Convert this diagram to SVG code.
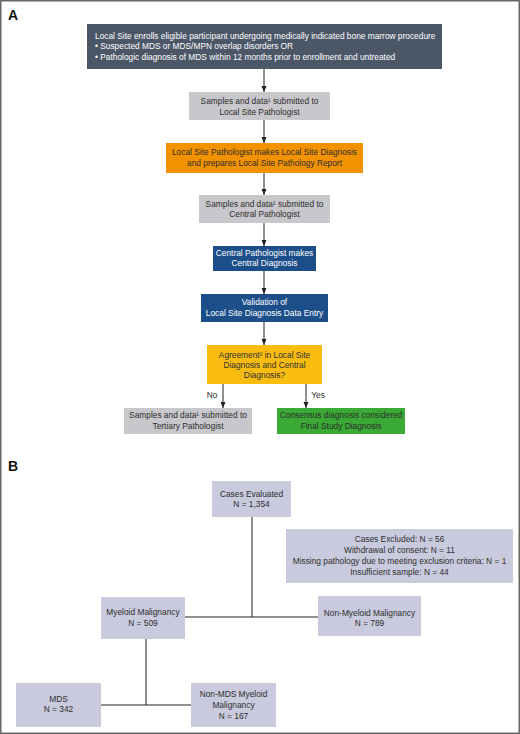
<svg xmlns="http://www.w3.org/2000/svg" width="520" height="734" viewBox="0 0 520 734">
<style>
  text { font-family: "Liberation Sans", Arial, sans-serif; font-size: 8.35px; fill: #2e2e2e; }
  .c { text-anchor: middle; }
  .w { fill: #ffffff; }
  .lbl { font-size: 14px; font-weight: bold; fill: #111; }
  .conn { stroke: #222; stroke-width: 1; fill: none; }
  .grey { fill: #c8c8cc; }
  .bbox { fill: #c9cadd; }
</style>
<defs>
  <marker id="ah" viewBox="0 0 6 6" refX="6" refY="3" markerWidth="6" markerHeight="6" markerUnits="userSpaceOnUse" orient="auto">
    <path d="M0,0.5 L6,3 L0,5.5 Z" fill="#222"/>
  </marker>
</defs>
<rect x="0.75" y="0.75" width="518.5" height="732.5" fill="#ffffff" stroke="#666" stroke-width="1.5"/>
<text class="lbl" x="8" y="20">A</text>
<text class="lbl" x="8" y="471">B</text>

<g id="connectors">
  <path class="conn" d="M264,69 V92" marker-end="url(#ah)"/>
  <path class="conn" d="M264,120 V143" marker-end="url(#ah)"/>
  <path class="conn" d="M264,173 V195" marker-end="url(#ah)"/>
  <path class="conn" d="M264,223 V246" marker-end="url(#ah)"/>
  <path class="conn" d="M264,271 V294" marker-end="url(#ah)"/>
  <path class="conn" d="M264,322 V345" marker-end="url(#ah)"/>
  <path class="conn" d="M223,384 V408" marker-end="url(#ah)"/>
  <path class="conn" d="M306,384 V408" marker-end="url(#ah)"/>
  <path class="conn" d="M252,517 V617"/>
  <path class="conn" d="M185,617 H318"/>
  <path class="conn" d="M146,639 V705"/>
  <path class="conn" d="M101,705 H191"/>
  <text x="212" y="398" class="c">No</text>
  <text x="318" y="398" class="c">Yes</text>
</g>

<g id="enroll">
  <rect x="87" y="24" width="355" height="45" fill="#4b5667"/>
  <text class="w" x="95" y="39">Local Site enrolls eligible participant undergoing medically indicated bone marrow procedure</text>
  <text class="w" x="95" y="49">• Suspected MDS or MDS/MPN overlap disorders OR</text>
  <text class="w" x="95" y="60">• Pathologic diagnosis of MDS within 12 months prior to enrollment and untreated</text>
</g>
<g id="submit-local">
  <rect class="grey" x="189" y="92" width="141" height="28"/>
  <text class="c" x="259.5" y="104">Samples and data¹ submitted to</text>
  <text class="c" x="259.5" y="115">Local Site Pathologist</text>
</g>
<g id="local-diagnosis">
  <rect x="166" y="143" width="197" height="30" fill="#f39200"/>
  <text class="c" x="264.5" y="155">Local Site Pathologist makes Local Site Diagnosis</text>
  <text class="c" x="264.5" y="166">and prepares Local Site Pathology Report</text>
</g>
<g id="submit-central">
  <rect class="grey" x="199" y="195" width="131" height="28"/>
  <text class="c" x="264.5" y="207">Samples and data¹ submitted to</text>
  <text class="c" x="264.5" y="217">Central Pathologist</text>
</g>
<g id="central-diagnosis">
  <rect x="213" y="246" width="103" height="25" fill="#1c4e8a"/>
  <text class="c w" x="264.5" y="256">Central Pathologist makes</text>
  <text class="c w" x="264.5" y="266">Central Diagnosis</text>
</g>
<g id="validation">
  <rect x="201" y="294" width="127" height="28" fill="#1c4e8a"/>
  <text class="c w" x="264.5" y="305">Validation of</text>
  <text class="c w" x="264.5" y="316">Local Site Diagnosis Data Entry</text>
</g>
<g id="agreement">
  <rect x="207" y="345" width="115" height="39" fill="#f9bd12"/>
  <text class="c" x="264.5" y="358">Agreement² in Local Site</text>
  <text class="c" x="264.5" y="368">Diagnosis and Central</text>
  <text class="c" x="264.5" y="378">Diagnosis?</text>
</g>
<g id="tertiary">
  <rect class="grey" x="124" y="408" width="128" height="26"/>
  <text class="c" x="188" y="418">Samples and data¹ submitted to</text>
  <text class="c" x="188" y="429">Tertiary Pathologist</text>
</g>
<g id="consensus">
  <rect x="277" y="408" width="128" height="26" fill="#3aa935"/>
  <text class="c" x="341" y="418" fill="#1f3d1c">Consensus diagnosis considered</text>
  <text class="c" x="341" y="429" fill="#1f3d1c">Final Study Diagnosis</text>
</g>

<g id="cases-evaluated">
  <rect class="bbox" x="212" y="481" width="79" height="36"/>
  <text class="c" x="251.5" y="497">Cases Evaluated</text>
  <text class="c" x="251.5" y="507">N = 1,354</text>
</g>
<g id="excluded">
  <rect class="bbox" x="286" y="529" width="227" height="54"/>
  <text class="c" x="399.5" y="542">Cases Excluded: N = 56</text>
  <text class="c" x="399.5" y="553">Withdrawal of consent: N = 11</text>
  <text class="c" x="399.5" y="564">Missing pathology due to meeting exclusion criteria: N = 1</text>
  <text class="c" x="399.5" y="575">Insufficient sample: N = 44</text>
</g>
<g id="myeloid">
  <rect class="bbox" x="101" y="597" width="84" height="42"/>
  <text class="c" x="143" y="615">Myeloid Malignancy</text>
  <text class="c" x="143" y="626">N = 509</text>
</g>
<g id="non-myeloid">
  <rect class="bbox" x="318" y="596" width="103" height="40"/>
  <text class="c" x="369.5" y="616">Non-Myeloid Malignancy</text>
  <text class="c" x="369.5" y="626">N = 789</text>
</g>
<g id="mds">
  <rect class="bbox" x="16" y="683" width="85" height="44"/>
  <text class="c" x="58.5" y="702">MDS</text>
  <text class="c" x="58.5" y="712">N = 342</text>
</g>
<g id="non-mds">
  <rect class="bbox" x="191" y="683" width="85" height="44"/>
  <text class="c" x="233.5" y="697">Non-MDS Myeloid</text>
  <text class="c" x="233.5" y="708">Malignancy</text>
  <text class="c" x="233.5" y="719">N = 167</text>
</g>
</svg>
